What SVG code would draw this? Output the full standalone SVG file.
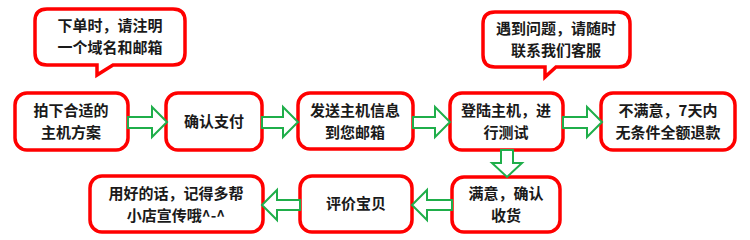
<svg xmlns="http://www.w3.org/2000/svg" width="750" height="240" viewBox="0 0 750 240">
<style>
.box{fill:#fff;stroke:#ff0000;stroke-width:3.5}
.arr{fill:#fff;stroke:#1fae4a;stroke-width:2;stroke-linejoin:miter}
text{font-family:"Noto Sans CJK SC","Liberation Sans",sans-serif;font-weight:bold;font-size:15px;fill:#1a1a1a;text-anchor:middle}
</style>
<rect width="750" height="240" fill="#fff"/>
<g id="callout1">
<path class="box" d="M47,9 H173 Q185,9 185,21 V53 Q185,65 173,65 H113 L97,75 V65 H47 Q35,65 35,53 V21 Q35,9 47,9 Z"/>
<text x="110" y="31">下单时，请注明</text>
<text x="110" y="53">一个域名和邮箱</text>
</g>
<g id="callout2">
<path class="box" d="M495,12 H618 Q630,12 630,24 V55 Q630,67 618,67 H556 L545,77 V67 H495 Q483,67 483,55 V24 Q483,12 495,12 Z"/>
<text x="556" y="34">遇到问题，请随时</text>
<text x="556" y="56">联系我们客服</text>
</g>
<g id="n1">
<rect class="box" x="15" y="93" width="113" height="57" rx="12"/>
<text x="71" y="116">拍下合适的</text>
<text x="71" y="138">主机方案</text>
</g>
<g id="n2">
<rect class="box" x="166" y="93" width="96" height="57" rx="12"/>
<text x="214" y="127">确认支付</text>
</g>
<g id="n3">
<rect class="box" x="298" y="93" width="115" height="56" rx="12"/>
<text x="355" y="116">发送主机信息</text>
<text x="355" y="138">到您邮箱</text>
</g>
<g id="n4">
<rect class="box" x="450" y="93" width="113" height="57" rx="12"/>
<text x="506" y="116">登陆主机，进</text>
<text x="506" y="138">行测试</text>
</g>
<g id="n5">
<rect class="box" x="601" y="93" width="134" height="57" rx="12"/>
<text x="668" y="116">不满意，7天内</text>
<text x="668" y="138">无条件全额退款</text>
</g>
<g id="n6">
<rect class="box" x="452" y="177" width="108" height="55" rx="12"/>
<text x="506" y="199">满意，确认</text>
<text x="506" y="221">收货</text>
</g>
<g id="n7">
<rect class="box" x="300" y="176" width="112" height="56" rx="12"/>
<text x="356" y="209">评价宝贝</text>
</g>
<g id="n8">
<rect class="box" x="90" y="176" width="173" height="56" rx="12"/>
<text x="176" y="199">用好的话，记得多帮</text>
<text x="176" y="221">小店宣传哦^-^</text>
</g>
<g id="connectors">
<path class="arr" d="M128,117 H152 V107 L167,122 L152,137 V128 H128 Z"/>
<path class="arr" d="M262,117 H283 V107 L298,122 L283,137 V128 H262 Z"/>
<path class="arr" d="M413,117 H435 V107 L450,122 L435,137 V128 H413 Z"/>
<path class="arr" d="M563,117 H587 V107 L602,122 L587,137 V128 H563 Z"/>
<path class="arr" d="M501,150 V163 H492 L507,177 L522,163 H513 V150 Z"/>
<path class="arr" d="M452,200 H427 V190 L412,205 L427,220 V210 H452 Z"/>
<path class="arr" d="M300,200 H277 V190 L262,205 L277,220 V210 H300 Z"/>
</g>
</svg>
